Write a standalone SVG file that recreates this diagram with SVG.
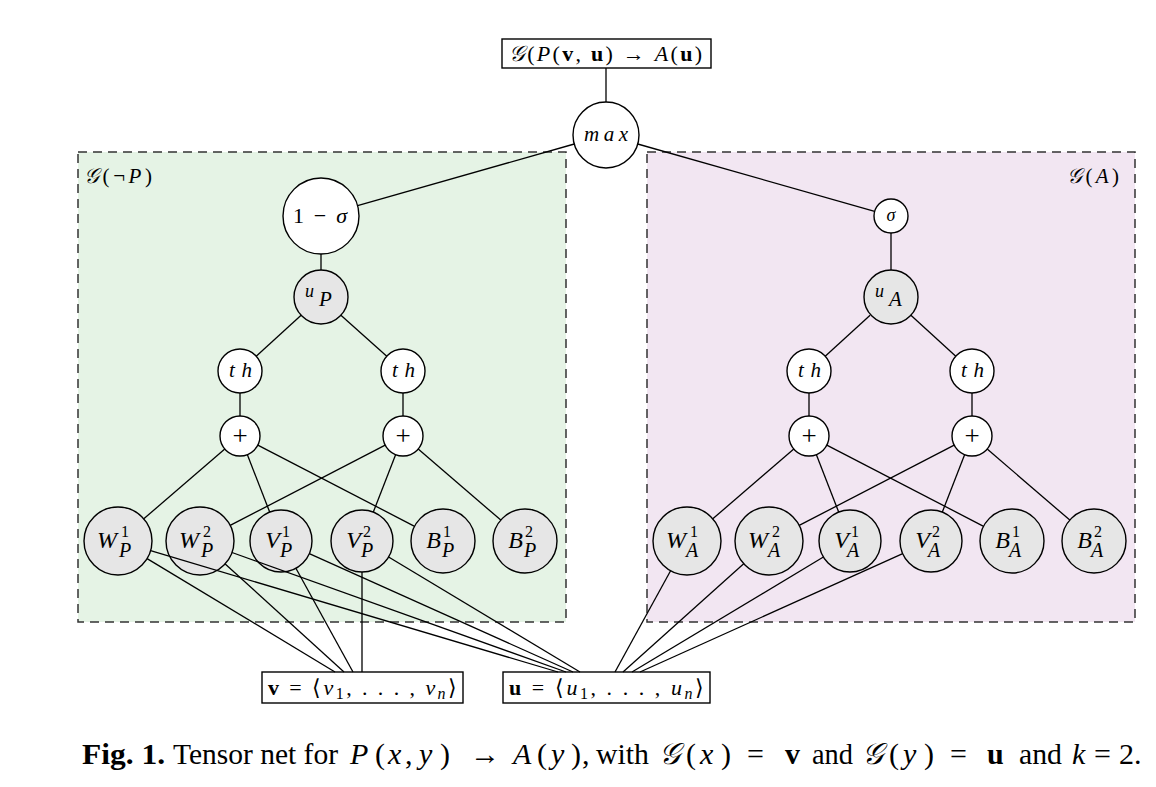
<svg xmlns="http://www.w3.org/2000/svg" width="1156" height="787" viewBox="0 0 1156 787">
<style>
.m{font-family:"Liberation Serif",serif;font-style:italic;fill:#000}
.r{font-family:"Liberation Serif",serif;font-style:normal;fill:#000}
.b{font-family:"Liberation Serif",serif;font-weight:bold;font-style:normal;fill:#000}
.w{fill:#fff;stroke:#000;stroke-width:1.4}
.g{fill:#e6e6e6;stroke:#000;stroke-width:1.4}
.box{fill:#fff;stroke:#000;stroke-width:1.4}
.e{stroke:#000;stroke-width:1.3;fill:none}
.main{font-size:24px}
.sup{font-size:16px;font-style:normal}
.sub{font-size:20px}
.cap{font-size:30px}
</style>
<rect width="1156" height="787" fill="#fff"/>
<g id="region-notP">
<rect x="78" y="152" width="488" height="470" fill="#e5f3e5" stroke="#333" stroke-width="1.5" stroke-dasharray="9 6"/>
<text class="m" x="84" y="183" font-size="21" textLength="68" lengthAdjust="spacing"><tspan>𝒢</tspan><tspan class="r">(¬</tspan><tspan>P</tspan><tspan class="r">)</tspan></text>
</g>
<g id="region-A">
<rect x="647" y="152" width="488" height="470" fill="#f2e6f2" stroke="#333" stroke-width="1.5" stroke-dasharray="9 6"/>
<text class="m" x="1067" y="183" font-size="21" textLength="52" lengthAdjust="spacing"><tspan>𝒢</tspan><tspan class="r">(</tspan><tspan>A</tspan><tspan class="r">)</tspan></text>
</g>

<g id="top">
<rect class="box" x="502" y="39" width="209" height="29"/>
<text class="m" x="509" y="61" font-size="22" textLength="193" lengthAdjust="spacing"><tspan>𝒢</tspan><tspan class="r">(</tspan><tspan>P</tspan><tspan class="r">(</tspan><tspan class="b">v</tspan><tspan class="r">, </tspan><tspan class="b">u</tspan><tspan class="r">) → </tspan><tspan>A</tspan><tspan class="r">(</tspan><tspan class="b">u</tspan><tspan class="r">)</tspan></text>
</g>
<g id="max"><circle class="w" cx="606" cy="135" r="33"/><text class="m" x="584" y="141" font-size="21" textLength="44" lengthAdjust="spacing">max</text></g>
<g id="oneminussigma"><circle class="w" cx="321" cy="216" r="38"/><text class="r" x="293" y="223" font-size="22" textLength="54" lengthAdjust="spacing">1 − <tspan class="m">σ</tspan></text></g>
<g id="sigma"><circle class="w" cx="891" cy="216" r="17"/><text class="m" x="891" y="221" font-size="18" text-anchor="middle">σ</text></g>
<g id="uP"><circle class="g" cx="321" cy="297" r="27"/><text class="m" x="305" y="297" font-size="18">u</text><text class="m" x="319" y="306" font-size="21">P</text></g>
<g id="uA"><circle class="g" cx="891" cy="297" r="27"/><text class="m" x="875" y="297" font-size="18">u</text><text class="m" x="889" y="306" font-size="21">A</text></g>

<g id="thP1"><circle class="w" cx="240" cy="371" r="22"/><text class="m" x="229" y="377" font-size="21" textLength="23" lengthAdjust="spacing">th</text></g>
<g id="thP2"><circle class="w" cx="403" cy="371" r="22"/><text class="m" x="392" y="377" font-size="21" textLength="23" lengthAdjust="spacing">th</text></g>
<g id="thA1"><circle class="w" cx="809" cy="371" r="22"/><text class="m" x="798" y="377" font-size="21" textLength="23" lengthAdjust="spacing">th</text></g>
<g id="thA2"><circle class="w" cx="972" cy="371" r="22"/><text class="m" x="961" y="377" font-size="21" textLength="23" lengthAdjust="spacing">th</text></g>

<g id="plusP1"><circle class="w" cx="240" cy="436" r="20"/><text class="r" x="240" y="445" font-size="27" text-anchor="middle">+</text></g>
<g id="plusP2"><circle class="w" cx="403" cy="436" r="20"/><text class="r" x="403" y="445" font-size="27" text-anchor="middle">+</text></g>
<g id="plusA1"><circle class="w" cx="809" cy="436" r="20"/><text class="r" x="809" y="445" font-size="27" text-anchor="middle">+</text></g>
<g id="plusA2"><circle class="w" cx="972" cy="436" r="20"/><text class="r" x="972" y="445" font-size="27" text-anchor="middle">+</text></g>

<g id="WP1"><circle class="g" cx="118" cy="541" r="34"/><text class="m main" x="117" y="548" text-anchor="end">W</text><text class="m sup" x="121" y="537">1</text><text class="m sub" x="119" y="557">P</text></g>
<g id="WP2"><circle class="g" cx="200" cy="541" r="34"/><text class="m main" x="199" y="548" text-anchor="end">W</text><text class="m sup" x="203" y="537">2</text><text class="m sub" x="201" y="557">P</text></g>
<g id="VP1"><circle class="g" cx="281" cy="541" r="31"/><text class="m main" x="280" y="548" text-anchor="end">V</text><text class="m sup" x="282" y="537">1</text><text class="m sub" x="280" y="557">P</text></g>
<g id="VP2"><circle class="g" cx="362" cy="541" r="31"/><text class="m main" x="361" y="548" text-anchor="end">V</text><text class="m sup" x="363" y="537">2</text><text class="m sub" x="361" y="557">P</text></g>
<g id="BP1"><circle class="g" cx="443" cy="541" r="32"/><text class="m main" x="441" y="548" text-anchor="end">B</text><text class="m sup" x="443" y="537">1</text><text class="m sub" x="442" y="557">P</text></g>
<g id="BP2"><circle class="g" cx="525" cy="541" r="32"/><text class="m main" x="523" y="548" text-anchor="end">B</text><text class="m sup" x="525" y="537">2</text><text class="m sub" x="524" y="557">P</text></g>

<g id="WA1"><circle class="g" cx="687" cy="541" r="34"/><text class="m main" x="686" y="548" text-anchor="end">W</text><text class="m sup" x="690" y="537">1</text><text class="m sub" x="686" y="557">A</text></g>
<g id="WA2"><circle class="g" cx="769" cy="541" r="34"/><text class="m main" x="768" y="548" text-anchor="end">W</text><text class="m sup" x="772" y="537">2</text><text class="m sub" x="768" y="557">A</text></g>
<g id="VA1"><circle class="g" cx="850" cy="541" r="31"/><text class="m main" x="849" y="548" text-anchor="end">V</text><text class="m sup" x="851" y="537">1</text><text class="m sub" x="847" y="557">A</text></g>
<g id="VA2"><circle class="g" cx="931" cy="541" r="31"/><text class="m main" x="930" y="548" text-anchor="end">V</text><text class="m sup" x="932" y="537">2</text><text class="m sub" x="928" y="557">A</text></g>
<g id="BA1"><circle class="g" cx="1012" cy="541" r="32"/><text class="m main" x="1010" y="548" text-anchor="end">B</text><text class="m sup" x="1012" y="537">1</text><text class="m sub" x="1009" y="557">A</text></g>
<g id="BA2"><circle class="g" cx="1094" cy="541" r="32"/><text class="m main" x="1092" y="548" text-anchor="end">B</text><text class="m sup" x="1094" y="537">2</text><text class="m sub" x="1091" y="557">A</text></g>

<g id="vbox">
<rect class="box" x="262" y="672" width="201" height="31"/>
<text class="r" x="268" y="695" font-size="22" textLength="189" lengthAdjust="spacing"><tspan class="b">v</tspan> = ⟨<tspan class="m">v</tspan><tspan font-size="16" dy="4">1</tspan><tspan dy="-4">, . . . , </tspan><tspan class="m">v</tspan><tspan class="m" font-size="16" dy="4">n</tspan><tspan dy="-4">⟩</tspan></text>
</g>
<g id="ubox">
<rect class="box" x="503" y="672" width="207" height="31"/>
<text class="r" x="509" y="695" font-size="22" textLength="195" lengthAdjust="spacing"><tspan class="b">u</tspan> = ⟨<tspan class="m">u</tspan><tspan font-size="16" dy="4">1</tspan><tspan dy="-4">, . . . , </tspan><tspan class="m">u</tspan><tspan class="m" font-size="16" dy="4">n</tspan><tspan dy="-4">⟩</tspan></text>
</g>

<g id="connectors" class="e">
<line x1="606" y1="68" x2="606" y2="102"/>
<line x1="574.3" y1="144" x2="357.6" y2="205.6"/>
<line x1="637.7" y1="144" x2="874.6" y2="211.4"/>
<line x1="321" y1="254" x2="321" y2="270"/>
<line x1="891" y1="233" x2="891" y2="270"/>
<line x1="301.1" y1="315.2" x2="256.2" y2="356.2"/>
<line x1="340.9" y1="315.2" x2="386.8" y2="356.2"/>
<line x1="870.1" y1="315.2" x2="825.2" y2="356.2"/>
<line x1="910.9" y1="315.2" x2="955.8" y2="356.2"/>
<line x1="240" y1="393" x2="240" y2="416"/>
<line x1="403" y1="393" x2="403" y2="416"/>
<line x1="809" y1="393" x2="809" y2="416"/>
<line x1="972" y1="393" x2="972" y2="416"/>
<line x1="224.8" y1="449" x2="143.8" y2="518.8"/>
<line x1="247.3" y1="454.6" x2="269.7" y2="512.1"/>
<line x1="257.8" y1="445.2" x2="414.6" y2="526.3"/>
<line x1="385.2" y1="445.2" x2="230.2" y2="525.4"/>
<line x1="395.7" y1="454.6" x2="373.3" y2="512.1"/>
<line x1="418.2" y1="449" x2="500.8" y2="520.1"/>
<line x1="793.8" y1="449" x2="712.8" y2="518.8"/>
<line x1="816.3" y1="454.6" x2="838.7" y2="512.1"/>
<line x1="826.8" y1="445.2" x2="983.6" y2="526.3"/>
<line x1="954.2" y1="445.2" x2="799.2" y2="525.4"/>
<line x1="964.7" y1="454.6" x2="942.3" y2="512.1"/>
<line x1="987.2" y1="449" x2="1069.8" y2="520.1"/>
<line x1="147.1" y1="558.6" x2="335" y2="672"/>
<line x1="225.2" y1="563.9" x2="344" y2="672"/>
<line x1="295.9" y1="568.2" x2="353" y2="672"/>
<line x1="362" y1="572" x2="362" y2="672"/>
<line x1="150.6" y1="550.7" x2="558" y2="672"/>
<line x1="232" y1="552.5" x2="566" y2="672"/>
<line x1="309.3" y1="553.7" x2="573" y2="672"/>
<line x1="388.6" y1="557" x2="580" y2="672"/>
<line x1="670.6" y1="570.8" x2="615" y2="672"/>
<line x1="743.7" y1="563.7" x2="623" y2="672"/>
<line x1="823.4" y1="557" x2="632" y2="672"/>
<line x1="902.7" y1="553.7" x2="640" y2="672"/>
</g>

<g id="caption">
<text class="b cap" x="82" y="764" textLength="83" lengthAdjust="spacingAndGlyphs">Fig. 1.</text>
<text class="r cap" x="173" y="764" textLength="165" lengthAdjust="spacingAndGlyphs">Tensor net for</text>
<text class="m cap" y="764"><tspan x="350">P</tspan><tspan class="r" x="375">(</tspan><tspan x="388">x</tspan><tspan class="r" x="405">,</tspan><tspan x="419">y</tspan><tspan class="r" x="440">)</tspan></text>
<text class="r cap" x="470" y="764">→</text>
<text class="m cap" y="764"><tspan x="513">A</tspan><tspan class="r" x="537">(</tspan><tspan x="551">y</tspan><tspan class="r" x="571">)</tspan><tspan class="r" x="582">,</tspan></text>
<text class="r cap" x="596" y="764" textLength="53" lengthAdjust="spacingAndGlyphs">with</text>
<text class="m cap" y="764"><tspan x="659">𝒢</tspan><tspan class="r" x="686">(</tspan><tspan x="700">x</tspan><tspan class="r" x="721">)</tspan></text>
<text class="r cap" x="747" y="764">=</text>
<text class="b cap" x="785" y="764">v</text>
<text class="r cap" x="812" y="764" textLength="41" lengthAdjust="spacingAndGlyphs">and</text>
<text class="m cap" y="764"><tspan x="862">𝒢</tspan><tspan class="r" x="889">(</tspan><tspan x="903">y</tspan><tspan class="r" x="924">)</tspan></text>
<text class="r cap" x="950" y="764">=</text>
<text class="b cap" x="987" y="764">u</text>
<text class="r cap" x="1019" y="764" textLength="43" lengthAdjust="spacingAndGlyphs">and</text>
<text class="m cap" x="1072" y="764">k</text>
<text class="r cap" x="1094" y="764">=</text>
<text class="r cap" x="1119" y="764">2.</text>
</g>
</svg>
